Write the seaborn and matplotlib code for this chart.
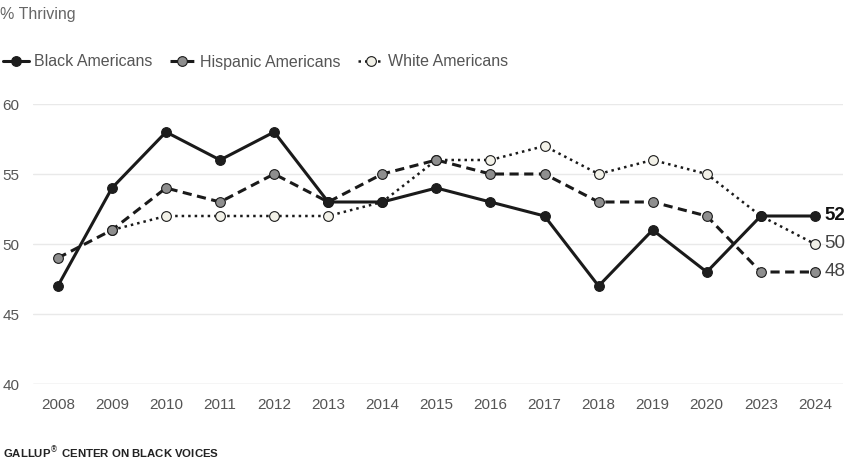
import matplotlib
matplotlib.use('Agg')
import matplotlib.pyplot as plt
from matplotlib.lines import Line2D
import seaborn as sns
import pandas as pd
import numpy as np

years = ['2008', '2009', '2010', '2011', '2012', '2013', '2014', '2015',
         '2016', '2017', '2018', '2019', '2020', '2023', '2024']
black = [47, 54, 58, 56, 58, 53, 53, 54, 53, 52, 47, 51, 48, 52, 52]
hispanic = [49, 51, 54, 53, 55, 53, 55, 56, 55, 55, 53, 53, 52, 48, 48]
white = [np.nan, 51, 52, 52, 52, 52, 53, 56, 56, 57, 55, 56, 55, 52, 50]

sns.set_style('white')
plt.rcParams['font.family'] = ['Liberation Sans', 'DejaVu Sans']

fig = plt.figure(figsize=(8.57, 4.68), dpi=100)
ax = fig.add_axes([33/857, 1-384/468, (843-33)/857, 280/468])

pos = np.arange(len(years))
series = [
    ('White Americans', white, (0, (1, 1.6)), '#f2f1e8', 1.8),
    ('Hispanic Americans', hispanic, (0, (3, 1.8)), '#8e8e8e', 2.2),
    ('Black Americans', black, '-', '#1e1e1e', 2.2),
]

handles = {}
for name, vals, ls, fc, lw in series:
    df = pd.DataFrame({'x': pos, 'y': vals}).dropna()
    sns.lineplot(data=df, x='x', y='y', ax=ax, color='#1a1a1a', linewidth=lw,
                 linestyle=ls, marker='o', markersize=7, markerfacecolor=fc,
                 markeredgecolor='#1a1a1a', markeredgewidth=0.8, clip_on=False)
    handles[name] = Line2D([], [], color='#1a1a1a', linewidth=lw, linestyle=ls,
                           marker='o', markersize=7, markerfacecolor=fc,
                           markeredgecolor='#1a1a1a', markeredgewidth=0.8)

ax.set_xlim(-0.46, 14.52)
ax.set_ylim(40, 60)
ax.set_yticks([40, 45, 50, 55, 60])
ax.set_xticks(pos)
ax.set_xticklabels(years)
ax.set_xlabel('')
ax.set_ylabel('')
for y in [45, 50, 55, 60]:
    ax.axhline(y, color='#e9e9e9', linewidth=1, zorder=0)
ax.axhline(40, color='#cfcfcf', linewidth=1, zorder=0)
for s in ax.spines.values():
    s.set_visible(False)
ax.tick_params(axis='x', length=0, pad=10, labelsize=11, labelcolor='#555555')
ax.tick_params(axis='y', length=0, pad=22, labelsize=11, labelcolor='#555555')
for t in ax.get_yticklabels():
    t.set_ha('left')

# end labels
ax.text(14 + 0.18, black[-1], '52', fontsize=13.5, fontweight='bold', color='#111111',
        va='center', ha='left')
ax.text(14 + 0.18, white[-1], '50', fontsize=13.5, color='#444444', va='center', ha='left')
ax.text(14 + 0.18, hispanic[-1], '48', fontsize=13.5, color='#444444', va='center', ha='left')

fig.text(0.0, 1-14/468, '% Thriving', fontsize=11.5, color='#666666', va='center', ha='left')

order = ['Black Americans', 'Hispanic Americans', 'White Americans']
fig.legend([handles[n] for n in order], order, loc='center left',
           bbox_to_anchor=(-0.013, 1-62/468), ncol=3, frameon=False,
           fontsize=11.5, labelcolor='#555555', handlelength=1.6,
           handletextpad=0.3, columnspacing=1.1)

fig.text(3/857, 1-453/468, 'GALLUP$^{\u00ae}$ CENTER ON BLACK VOICES', fontsize=8.2,
         fontweight='bold', color='#222222', va='center', ha='left')

fig.savefig('out.png', dpi=100)
